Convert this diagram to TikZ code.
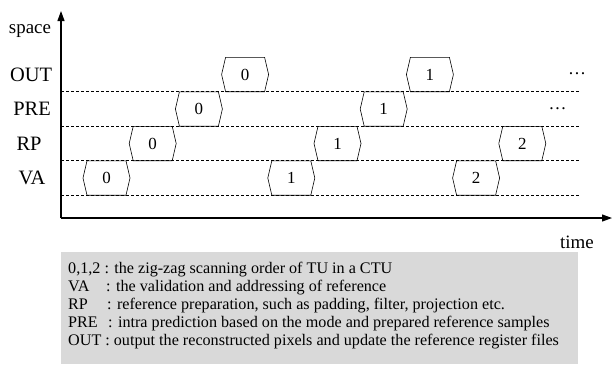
\documentclass[tikz,border=0pt]{standalone}
\usepackage{fontspec}
\setmainfont{Liberation Serif}
\usetikzlibrary{arrows.meta}
\newcommand\hexa[4]{%
  \node[hexlbl] (#1) at (#2,#3) {#4};
  \draw[hexline] (#1.center) ++(-23.5,0) -- ++(4,-17.2) -- ++(39,0) -- ++(4,17.2) -- ++(-4,17.2) -- ++(-39,0) -- cycle;}
\begin{document}
\begin{tikzpicture}[x=1bp,y=-1bp,
  hexlbl/.style={inner sep=0pt,font=\fontsize{17}{17}\selectfont},
  hexline/.style={line width=0.6bp},
  rowlbl/.style={inner sep=0pt,font=\fontsize{20.5}{20.5}\selectfont},
  gridline/.style={dash pattern=on 3bp off 2bp,line width=0.6bp},
  axisline/.style={line width=1.1bp,-{Triangle[length=10bp,width=7bp]}},
  legtxt/.style={inner sep=0pt,anchor=base west,font=\fontsize{16.2}{16.2}\selectfont},
  dotslbl/.style={inner sep=0pt,font=\fontsize{18}{18}\selectfont}]
\useasboundingbox (0,0) rectangle (612,364);
% legend box
\fill[fill={rgb,255:red,217;green,217;blue,217}] (61,251.5) rectangle (578,364);
% grid lines
\foreach \yy in {91.5,126,160.5,195}{\draw[gridline] (61,\yy) -- (580,\yy);}
% axes
\coordinate (o) at (61,218);
\coordinate (ytop) at (61,11);
\coordinate (xend) at (612,218);
\draw[axisline] (o) -- (ytop);
\draw[axisline] (o) -- (xend);
% axis labels
\node[rowlbl,font=\fontsize{19}{19}\selectfont,anchor=base] (space) at (30,33) {space};
\node[rowlbl,font=\fontsize{19}{19}\selectfont,anchor=base] (time) at (577,248) {time};
\node[rowlbl] (lout) at (31,74.5) {OUT};
\node[rowlbl] (lpre) at (32,109) {PRE};
\node[rowlbl] (lrp) at (29,143.5) {RP};
\node[rowlbl] (lva) at (32,178) {VA};
% hexagons
\hexa{va0}{106.5}{178}{0}
\hexa{rp0}{152.7}{143.5}{0}
\hexa{pre0}{198.9}{109}{0}
\hexa{out0}{245.1}{74.5}{0}
\hexa{va1}{291.3}{178}{1}
\hexa{rp1}{337.5}{143.5}{1}
\hexa{pre1}{383.7}{109}{1}
\hexa{out1}{429.9}{74.5}{1}
\hexa{va2}{476.1}{178}{2}
\hexa{rp2}{522.3}{143.5}{2}
% dots
\node[dotslbl] (dout) at (577,74) {…};
\node[dotslbl] (dpre) at (557.5,109) {…};
% legend
\node[legtxt] (lg1) at (68,273.5) {0,1,2 : the zig-zag scanning order of TU in a CTU};
\node[legtxt] (lg2a) at (68,291.5) {VA};
\node[legtxt] (lg2b) at (106,291.5) {: the validation and addressing of reference};
\node[legtxt] (lg3a) at (68,309.5) {RP};
\node[legtxt] (lg3b) at (107,309.5) {: reference preparation, such as padding, filter, projection etc.};
\node[legtxt] (lg4a) at (68,327.5) {PRE};
\node[legtxt] (lg4b) at (108,327.5) {: intra prediction based on the mode and prepared reference samples};
\node[legtxt] (lg5) at (68,345.5) {OUT : output the reconstructed pixels and update the reference register files};
\end{tikzpicture}
\end{document}
